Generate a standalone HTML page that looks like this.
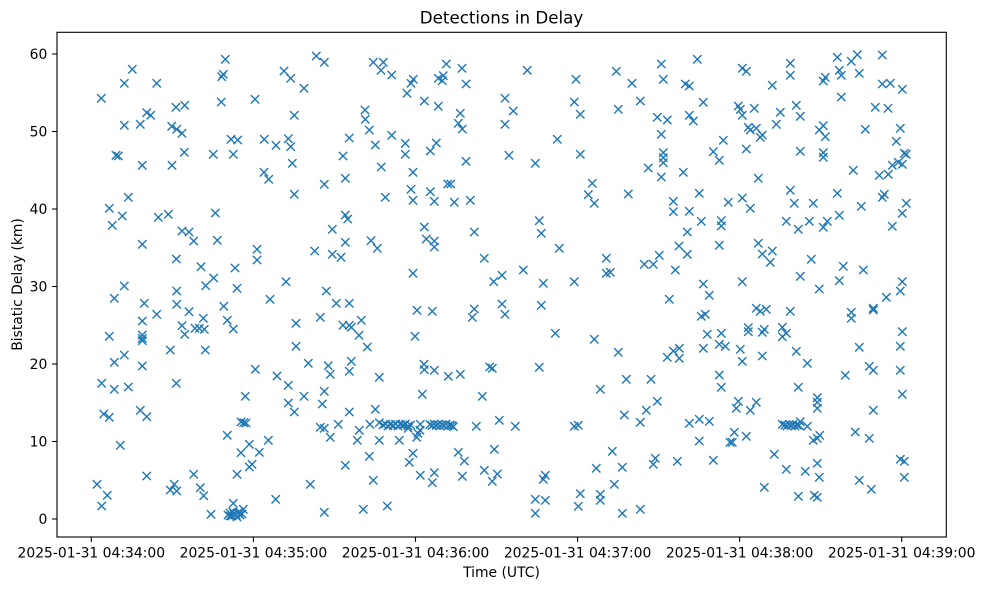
<!DOCTYPE html>
<html>
<head>
<meta charset="utf-8">
<style>
html,body{margin:0;padding:0;background:#fff;}
svg{display:block;}
text{font-family:"DejaVu Sans","Liberation Sans",sans-serif;fill:#000;}
</style>
</head>
<body>
<svg width="984" height="590" viewBox="0 0 984 590" xmlns="http://www.w3.org/2000/svg">
<defs>
<marker id="mx" markerWidth="10" markerHeight="10" refX="5" refY="5" markerUnits="userSpaceOnUse" overflow="visible">
<path d="M0.83 0.83L9.17 9.17M9.17 0.83L0.83 9.17" stroke="#1f77b4" stroke-width="1.39" fill="none"/>
</marker>
</defs>
<rect x="0" y="0" width="984" height="590" fill="#fff"/>
<text x="501.5" y="23.5" font-size="16.7" text-anchor="middle">Detections in Delay</text>

<polyline fill="none" stroke="none" marker-start="url(#mx)" marker-mid="url(#mx)" marker-end="url(#mx)" points="
225.3,59.3 132.3,69.3 124.3,83.3 156.7,83.3 221.7,76.7 223.3,74.3 101.3,98.3 221.3,102 255,99.3 176,107.3 184.7,105.3 146.7,112.7 150.7,115.3 124.3,125.3 140.3,124.3 171.7,126.3 176.7,129.3 182,133.3 231,139.3 237.7,140 264.3,139.3 276,145.3 116,155.3 118.3,156 184.3,152.3 213.3,154.3 233.3,154.3 142.3,165.3 172,165.3 264,172.3 268.7,179.3 128.3,197.3 109.3,208.3 122.3,216 112.3,225.3 158.3,217.3 168.3,214.3 215.3,213 182,231 189,232 193.7,241 217.3,240.3 142.3,244.3 257,249.3 257,260 176.3,259 201,266.7 235,268 213.7,278
124.3,286 176.7,291 205.7,285.7 237,288.3 114.3,298.3 144.3,303.3 176.7,304.3 270,299.3 156.7,314.3 189,311.7 223.7,306.3 142.3,321 203.3,318.3 227.3,320.3 182,325.7 195,328.3 199.3,328.3 204.3,329.3 233.3,329 109.3,336.3 142.3,335 142.3,338.3 142.3,340.7 184.7,334.3 170.3,350 205.3,350 114.3,362.3 124.3,355 142.3,366 255.3,369.3 277,376 101.7,383.3 114.3,389.3 128.3,387 176.3,383.3 245.3,396.3 103.7,414 109.3,417.3 140.3,410.3 146.7,416.7 241,422 243.7,422.7 246,423 227.3,435.3 120.3,445.3 249.3,444.3 268.3,440.3 241,452.7 259.3,452.3 249.3,467 252,464.3 146.7,476 193.7,474.3 237,474.3 97,484.3 107.3,495.3 101.7,506 170.3,490 174.3,484.3 176.7,491 200.3,487.7 203.7,495.7 275.7,499.3 233.3,503.3 211,514.3 243.3,509.3
228,515 230,513 232,516 234,514 236,515 238,513 240,515 242,514 233,512 237,517 230,516 239,512
316.3,56 324.3,62.3 284,71 290.7,78.3 304,88.3 373.3,62.3 383.3,62.3 381,70.3 391.7,75 446.3,64 462,68.3 413.3,79.3 411,83.3 407,93.3 438.3,78.3 443.3,75.7 442.3,80.7 466,84 505,98.3 424.3,101 438.3,106.3 460.3,113.3 458.3,123.3 462.3,129 505,124.3 294.3,115.3 365,110 365.3,119.3 369.3,130 349.3,138 391.7,135.3 375.3,145 405.3,143.3 405.3,154.3 436.3,143 430.3,151 288.3,138.7 290.7,146.7 343,156 292.3,163.3 381.3,167 413,172.3 466,161.3 345.3,178.3 324.3,184.3 294.3,194.3 385.3,197.3 411,189.3 413,200.3 430.3,191.7 434.3,201.3 447.7,184 450.7,184 454.3,202.3 470.3,200.3 345.3,215 347.7,219 332.3,229.3 345.3,242.3 314.7,251 332.3,254.3 341,257.3 371,240.7 377.3,248.3 424.3,227 426.3,239 434.3,241 434.3,247 474.3,232 484.3,258.3 413,273.3 286,281.7 493.7,281.7 502,275.3
326.3,291 336.3,303.3 349.3,303.3 296,323.3 320.3,317.3 343,325.3 349.3,325.3 351.3,327.3 361.3,320.3 359,335.3 367.3,347 296,346.3 417,310.3 432.3,311.3 474.3,309 472.3,317.3 502,304 505,314.3 415,336.3 308.3,363.3 328.3,365.7 330.3,374.3 351.3,361.3 349.3,371.3 379.3,377.3 424,364.3 424.3,369.7 434.3,370.3 448.3,376.3 460.3,374.3 489.7,367 492.3,368.3 288.3,385.3 304,396.3 324.3,391.3 322.3,404 288.3,403 294.3,412 422.3,394.3 482.3,396.3 349.3,412 375.3,409.3 320.3,427.3 324.3,428.3 330.3,437.3 338.3,424.3 359.3,430.3 357.3,440.3 370,424.3 379.3,422.7 379.3,440.3 399.3,440.3
383,425 385.5,424 388,426 390.5,424.5 393,425.5 395.5,424 398,426 400.5,424.5 403,425 405.5,424 408,426 410.5,425 408.3,428.3 420.3,424.3 420,430.3 418,433.3 416.7,437.3
430,424.5 432,425.5 434,424 436,425.5 438,424.5 440,426 442,424.5 444,425.5 446,424 448,426 450,425 452,425.5 453.3,426.7 476.3,426.3 499.3,420.3 494.3,449.3 413,453.3 409.3,462.3 369.3,456.3 345.3,465.3 458.3,452.3 464.3,461 420.3,475.3 434.3,472.7 432.3,482.7 462.3,476.3 484.3,470.3 497.3,474 492.3,481.3 310.3,484.3 373.3,480.3 324.3,512.3 363.3,509.3 387.3,506
527.3,70.3 576,79.3 616.3,71.3 632,83.3 661.3,64 697.3,59.3 663.3,79.3 685.3,84 689.3,86 513.3,111 574.3,102 580.3,114.3 618.3,109.3 640.3,101 657.3,117.3 667.3,120 689.3,115.3 693.3,121 703.3,102.3 661.3,134.3 723.3,140.3 557.3,139.3 509,155.3 580.3,154.3 535.3,163.3 663.3,152.7 663.3,157.7 663.3,162.7 648.3,168 661.3,177 683.3,172.3 713.3,151.7 719.3,160.3 592.3,183.3 588.3,194.7 594.3,203.3 628.3,194 699.3,193.3 673.3,201.3 673.3,211.7 689.3,211.3 701.3,221.3 728.3,202.3 721.3,220.7 721.3,226 539.3,220.7 541.3,233.3 687.3,232 559.3,248.3 719.3,245.3 679,246 687.3,254.3 659.3,255.3 606.3,258.3 644.3,264.3 653.3,264.3 606.3,273.3 610.3,272.3 675.3,270 523.3,270 543.3,283.3 574.3,281.7 703.3,284
541.3,305.3 669.3,299.3 709.3,295.3 701.3,316.3 705.3,314.3 555.3,333.3 594.3,339.3 618.3,352.3 707.3,334.3 721.3,333.3 719.3,344.3 725.3,346.3 703.3,348.3 667.3,357.3 673.3,351 679.3,348.3 679.3,358.3 539.3,367.3 626.3,379.3 651,379.3 600.3,389.3 719.3,375 721.3,387.3 657.3,401.3 646.3,410.3 624.3,415 640.3,422.3 515.3,426.3 574.3,426.3 578.3,425.3 689.3,423.3 699.3,419.3 709.3,421.3 699.3,441 730,442.3 612.3,451.3 596.3,468.3 622.3,467.3 655.3,458.3 653.3,464.3 677.3,461.3 713.3,460.3 545.3,475.3 543.3,479.3 614.3,484.3 535.3,499.3 545.3,500.3 580.3,493.7 600.3,494.3 600.3,500.3 578.3,506.3 535.3,513.3 622.3,513.3 640.3,509.3
742.3,68.3 746.3,71.3 790.3,63.3 790.3,75.3 772.3,85.3 837.3,57.3 851.3,61.3 857.3,54.7 882.3,55 839.3,70.3 841.3,75.3 859.3,73.3 823.3,81 825.3,77.3 882.3,84 890.3,83.3 902.3,89.3 841.3,97 738.3,106 740.3,109.3 742.3,115.3 754.3,108.3 796.3,105.3 780.3,112.3 800.3,116.3 875.3,107.3 888,108.3 776.3,124.3 748.3,127.3 750.3,130 756.3,128.3 760.3,137.3 762.3,135 819.3,130 823.3,125.7 825.3,136.7 865.3,129.3 900.3,128.3 896.3,141.3 746.3,149 800.3,151.3 823.3,152.7 823.3,157.3 904.3,153.3 906.3,154.3 902.3,164.3 898.3,162.3 892.3,165.3 853.3,170.3 879.3,175.3 888.3,174.3 758.3,178.3 790.3,190.3 742.3,198 750.3,208.3 794.3,203.3 813.3,203.3 837.3,193.3 861.3,206.3 882.3,197.3 884.3,194.3 906.3,203.3 902.3,213.3 892.3,226.3 786.3,221.3 798.3,229.3 809.3,221.3 823.3,227.3 827.3,221.3 839.3,215.3 758.3,243.3 762.3,254 772.3,251 770.3,262.3 811.3,259.3 843.3,266.3 863.3,270 800.3,276.3 742.3,281.7 839.3,280.7 902.3,281.7
819.3,289 886.3,297.3 900.3,291 756.3,308.3 760.3,311.3 766.3,309.3 790.3,311.3 851.3,312.3 851.3,318.3 873.3,308.3 873.3,310 748.3,327.7 748.3,331.7 762.3,332.3 764.3,329.3 782.3,327.3 786.3,333.3 782.3,336.7 902.3,331.7 740.3,349.3 742.3,361.3 762.3,356 796.3,351.3 807.3,363.3 859.3,347.3 900.3,346.3 845.3,375.3 869.3,366.3 873.3,370.3 900.3,370.3 902.3,394.3 798.3,387.3 817.3,397.7 817.3,402.3 817.3,408.3 738.3,401.3 736.3,408.3 756.3,402.3 750.3,410.3 873.3,410.3 782.3,424.3
785,425 787,426 789,424.5 791,425.5 793,424.5 795,426 797,425 799,425.5 800.3,421.7 807.3,426.3 734.3,432.3 732.3,442.3 746.3,436.3 813.3,440.3 817.3,438.3 819.7,435.3 855.3,432 869.3,438.3 774.3,454.3 786.3,469.3 805.3,471.3 817.3,463.3 819.3,477.3 900.3,459.3 904.3,461.3 904.3,477.3 859.3,480.3 871.3,489.3 764.3,487.3 798.3,496.3 814.3,495.3 817.3,497.3
"/>

<!-- axes frame -->
<rect x="57" y="32.3" width="889.3" height="504.7" fill="none" stroke="#000" stroke-width="1.1"/>

<!-- y ticks -->
<g stroke="#000" stroke-width="1.1">
<line x1="52.1" y1="519" x2="57" y2="519"/>
<line x1="52.1" y1="441.5" x2="57" y2="441.5"/>
<line x1="52.1" y1="364" x2="57" y2="364"/>
<line x1="52.1" y1="286.5" x2="57" y2="286.5"/>
<line x1="52.1" y1="209" x2="57" y2="209"/>
<line x1="52.1" y1="131.5" x2="57" y2="131.5"/>
<line x1="52.1" y1="54" x2="57" y2="54"/>
</g>
<g font-size="13.9" text-anchor="end">
<text x="47.3" y="524">0</text>
<text x="47.3" y="446.5">10</text>
<text x="47.3" y="369">20</text>
<text x="47.3" y="291.5">30</text>
<text x="47.3" y="214">40</text>
<text x="47.3" y="136.5">50</text>
<text x="47.3" y="59">60</text>
</g>

<!-- x ticks -->
<g stroke="#000" stroke-width="1.1">
<line x1="91.3" y1="537" x2="91.3" y2="541.9"/>
<line x1="253.4" y1="537" x2="253.4" y2="541.9"/>
<line x1="415.5" y1="537" x2="415.5" y2="541.9"/>
<line x1="577.6" y1="537" x2="577.6" y2="541.9"/>
<line x1="739.6" y1="537" x2="739.6" y2="541.9"/>
<line x1="901.7" y1="537" x2="901.7" y2="541.9"/>
</g>
<g font-size="13.9" text-anchor="middle">
<text x="91.3" y="557.3">2025-01-31 04:34:00</text>
<text x="253.4" y="557.3">2025-01-31 04:35:00</text>
<text x="415.5" y="557.3">2025-01-31 04:36:00</text>
<text x="577.6" y="557.3">2025-01-31 04:37:00</text>
<text x="739.6" y="557.3">2025-01-31 04:38:00</text>
<text x="901.7" y="557.3">2025-01-31 04:39:00</text>
</g>

<text x="501.5" y="577" font-size="13.9" text-anchor="middle">Time (UTC)</text>
<text transform="translate(22,284.5) rotate(-90)" font-size="13.9" text-anchor="middle">Bistatic Delay (km)</text>
</svg>
</body>
</html>
